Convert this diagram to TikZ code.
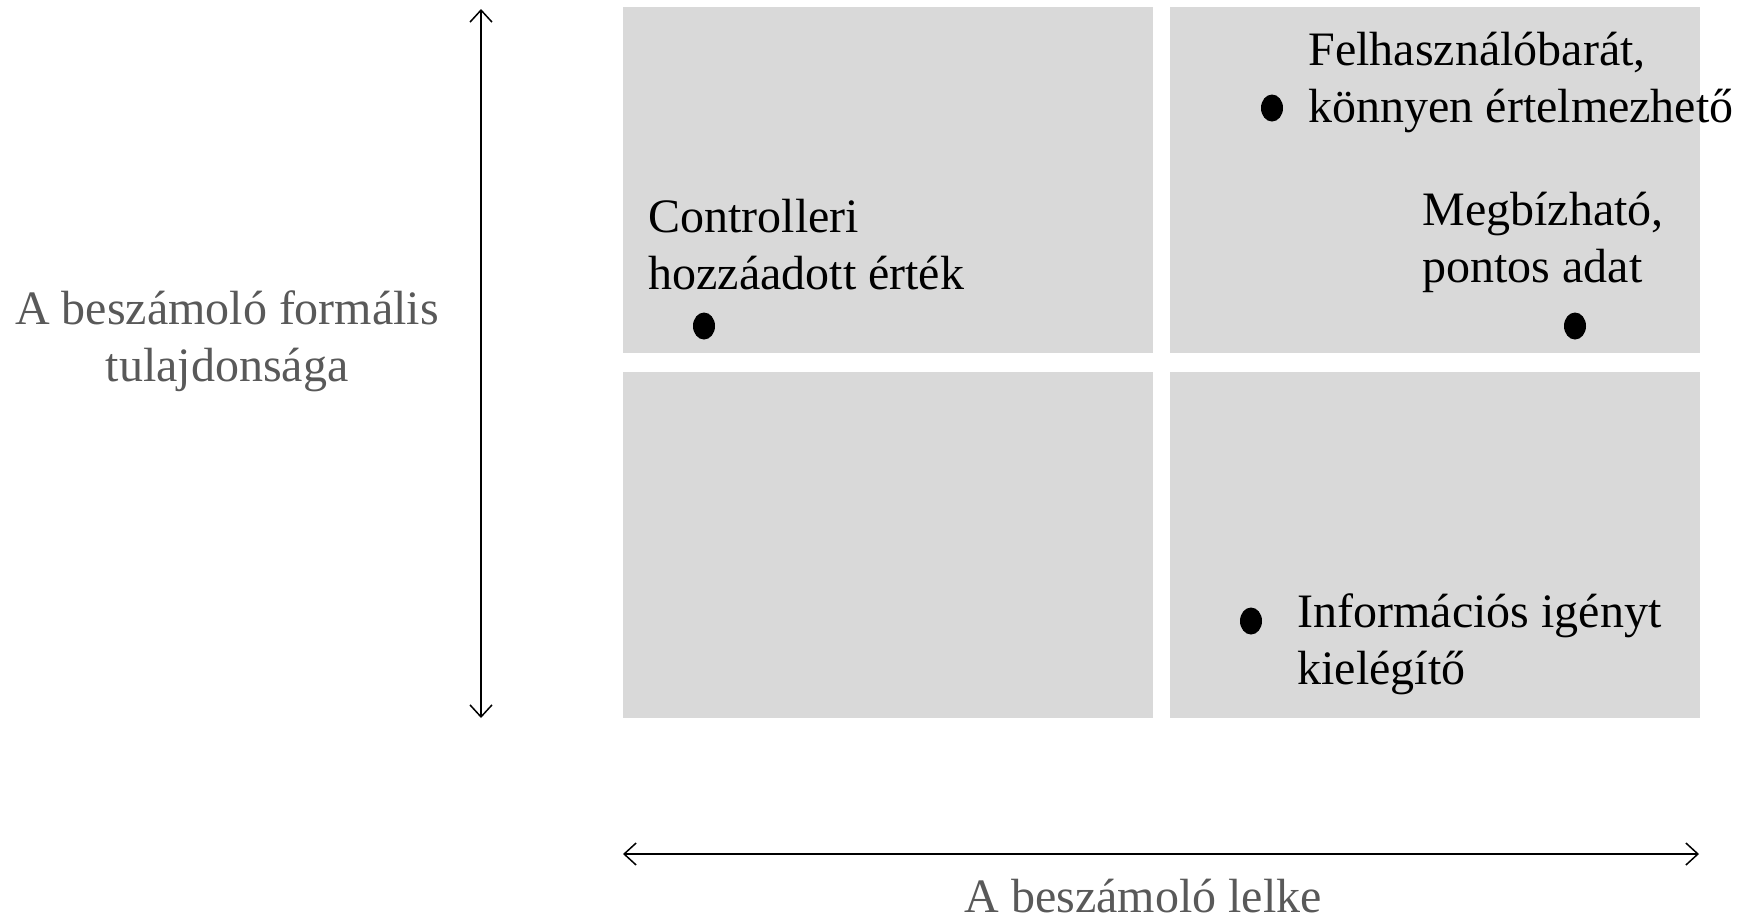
\documentclass[tikz,border=0pt]{standalone}
\usepackage{fontspec}
\setmainfont{Liberation Serif}
\usetikzlibrary{arrows.meta,shapes.geometric}
\definecolor{quadfill}{HTML}{D9D9D9}
\definecolor{axistext}{HTML}{595959}
\begin{document}
\begin{tikzpicture}[x=0.5pt,y=-0.5pt,
  quad/.style={fill=quadfill, draw=none, inner sep=0pt, minimum width=265pt, minimum height=173pt, anchor=north west},
  lbl/.style={font=\fontsize{24}{28.5}\selectfont, align=left, anchor=west, inner sep=0pt, text=black},
  axislbl/.style={font=\fontsize{24}{28.5}\selectfont, align=center, inner sep=0pt, text=axistext},
  dot/.style={ellipse, fill=black, inner sep=0pt, minimum width=11pt, minimum height=13.5pt},
  axis/.style={line width=0.75pt, {Straight Barb[length=6pt,width=11pt]}-{Straight Barb[length=6pt,width=11pt]}}
]
\useasboundingbox (0,0) rectangle (1745,917);

% four quadrants
\node[quad] (tl) at (623,7) {};
\node[quad] (tr) at (1170,7) {};
\node[quad] (bl) at (623,372) {};
\node[quad] (br) at (1170,372) {};

% axes
\coordinate (vtop) at (481,9);
\coordinate (vbot) at (481,718);
\coordinate (hleft) at (623,854);
\coordinate (hright) at (1699,854);
\draw[axis] (vtop) -- (vbot);
\draw[axis] (hleft) -- (hright);

\node[axislbl] (ylab) at (227,341) {A beszámoló formális\\tulajdonsága};
\node[axislbl] (xlab) at (1143,896) {A beszámoló lelke};

% labelled points
\node[lbl] (ctrl) at (648,245) {Controlleri\\hozzáadott érték};
\node[dot] (dctrl) at (704,326) {};

\node[lbl] (felh) at (1308,82) {Felhasználóbarát,\\könnyen értelmezhető};
\node[dot] (dfelh) at (1272,108) {};

\node[lbl] (megb) at (1422,242) {Megbízható,\\pontos adat};
\node[dot] (dmegb) at (1575,326) {};

\node[lbl] (info) at (1297,644) {Információs igényt\\kielégítő};
\node[dot] (dinfo) at (1251,621) {};
\end{tikzpicture}
\end{document}
